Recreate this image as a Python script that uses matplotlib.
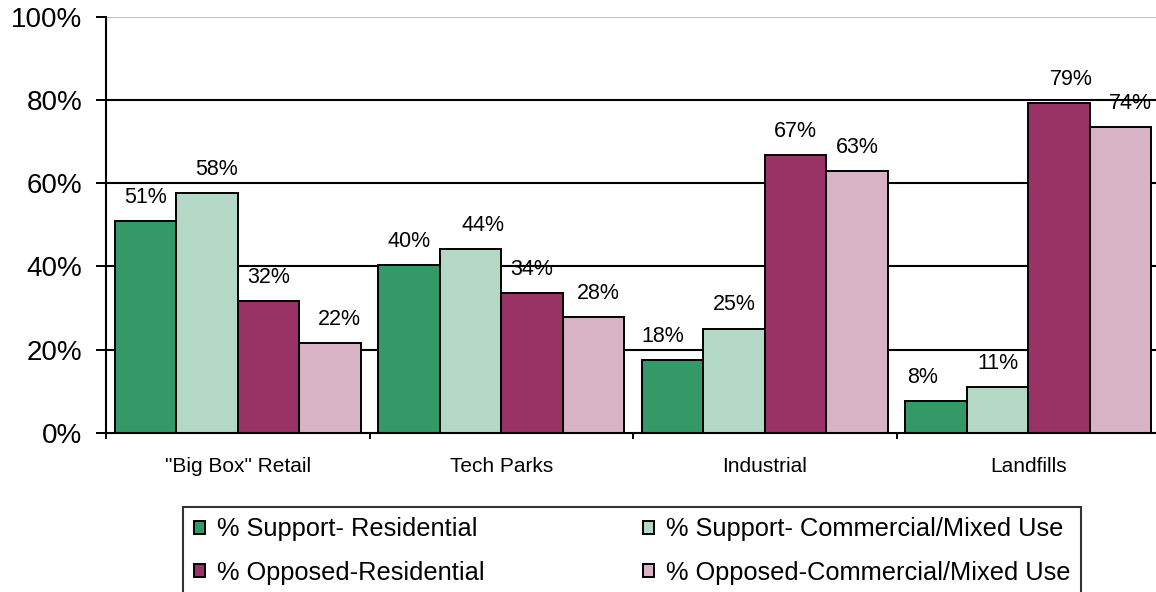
import numpy as np
import matplotlib
matplotlib.use("Agg")
import matplotlib.pyplot as plt
from matplotlib.patches import Patch

plt.rcParams['font.family'] = ['Liberation Sans', 'DejaVu Sans']

# data (percent)
categories = ['"Big Box" Retail', 'Tech Parks', 'Industrial', 'Landfills']
series_names = ['% Support- Residential', '% Support- Commercial/Mixed Use',
                '% Opposed-Residential', '% Opposed-Commercial/Mixed Use']
support_res = [51.0, 40.4, 17.6, 7.7]
support_com = [57.7, 44.2, 25.1, 11.0]
opposed_res = [31.7, 33.7, 66.8, 79.3]
opposed_com = [21.7, 27.9, 63.0, 73.6]
yticks = [0, 20, 40, 60, 80, 100]

colors = ['#339966', '#B3D8C6', '#993366', '#D8B3C6']
# horizontal nudge of value labels (pixels), as Excel placed them
label_dx = [[0, 0, -10, -13], [10, 13, 0, 0], [0, 0, 0, 12], [9, 5, 0, 10]]

fig = plt.figure(figsize=(11.56, 5.92), dpi=100)
ax = fig.add_axes([106 / 1156, 159 / 592, 1054 / 1156, 416.3 / 592])

x = np.arange(len(categories)) + 0.5
w = 0.2335
all_series = [support_res, support_com, opposed_res, opposed_com]
for j, vals in enumerate(all_series):
    xs = x + (j - 1.5) * w
    ax.bar(xs, vals, width=w, color=colors[j], edgecolor='black',
           linewidth=1.4, zorder=3)
    for k, (xi, v) in enumerate(zip(xs, vals)):
        ax.annotate(f'{v:.0f}%', (xi, v), xytext=(label_dx[j][k] * 0.72, 13),
                    textcoords='offset points', ha='center', va='baseline',
                    fontsize=15.5, zorder=4)

ax.set_xlim(0, 4)
ax.set_ylim(0, 100)
for yv in yticks[1:-1]:
    ax.axhline(yv, color='black', linewidth=1.5, zorder=1)
ax.axhline(100, color='#C0C0C0', linewidth=1.5, zorder=1)

ax.set_yticks(yticks)
ax.set_yticklabels([f'{t}%' for t in yticks])
ax.tick_params(axis='y', direction='out', length=7.2, width=1.4, pad=10,
               labelsize=20)
ax.set_xticks(x)
ax.set_xticklabels(categories)
ax.tick_params(axis='x', which='major', length=0, pad=17, labelsize=15)
ax.set_xticks(np.arange(len(categories) + 1), minor=True)
ax.tick_params(axis='x', which='minor', direction='out', length=4.5, width=1.4)

for s in ['top', 'right']:
    ax.spines[s].set_visible(False)
for s in ['left', 'bottom']:
    ax.spines[s].set_linewidth(1.5)
    ax.spines[s].set_zorder(5)

# legend fills column by column; order it so rows read support / opposed
handles = [Patch(facecolor=c, edgecolor='black', linewidth=1.4) for c in colors]
order = [0, 2, 1, 3]
leg = fig.legend([handles[i] for i in order], [series_names[i] for i in order],
                 ncol=2, loc='upper left',
                 bbox_to_anchor=(183.3 / 1156, (592 - 506.7) / 592),
                 fontsize=18.3, frameon=True, fancybox=False, edgecolor='black',
                 handlelength=0.44, handleheight=0.44, handletextpad=0.45,
                 columnspacing=6.25, labelspacing=0.76, borderpad=0.42,
                 borderaxespad=0)
leg.get_frame().set_linewidth(1.5)

fig.savefig('out.png', dpi=100)
